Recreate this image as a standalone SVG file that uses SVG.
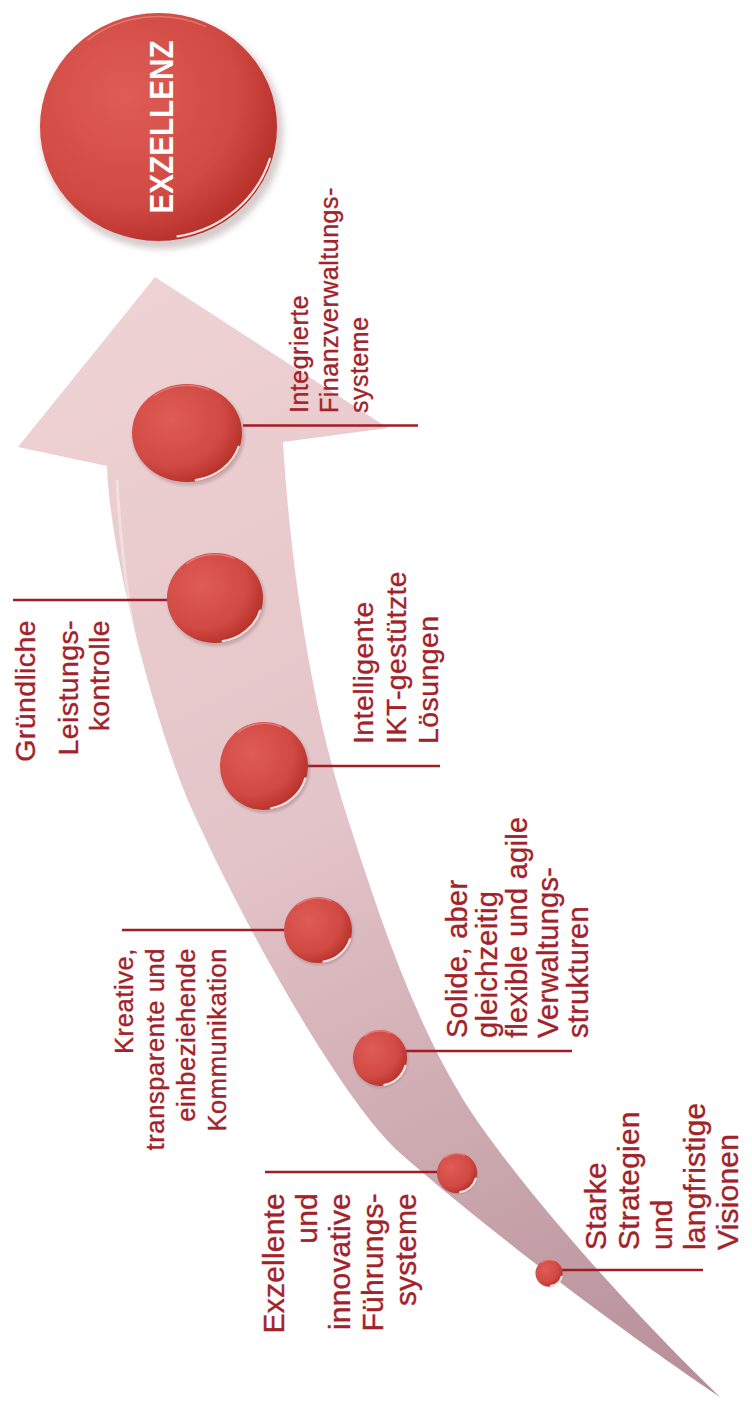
<svg xmlns="http://www.w3.org/2000/svg" width="752" height="1401" viewBox="0 0 752 1401">
<style>
.lbl{font-family:"Liberation Sans",Arial,Helvetica,sans-serif;fill:#a3222a;stroke:#a3222a;stroke-width:0.35px}
.f1{font-size:25px;letter-spacing:0.5px}
.f2{font-size:28.5px;letter-spacing:0.4px}
.f4{font-size:25.5px;letter-spacing:0.6px}
.f5{font-size:29px;letter-spacing:0.3px}
.f6{font-size:30px;letter-spacing:0.2px}
.s{text-anchor:start}
.e{text-anchor:end}
.lead{stroke:#a11d25;stroke-width:2.6;fill:none}
.title{font-family:"Liberation Sans",Arial,Helvetica,sans-serif;font-weight:bold;font-size:34px;fill:#ffffff;text-anchor:middle}
</style>
<defs>
<linearGradient id="arrowGrad" gradientUnits="userSpaceOnUse" x1="150" y1="280" x2="700" y2="1400">
<stop offset="0" stop-color="#efd2d4"/>
<stop offset="0.45" stop-color="#e3c4c8"/>
<stop offset="1" stop-color="#b68e97"/>
</linearGradient>
<radialGradient id="ballGrad" cx="0.36" cy="0.36" r="0.66">
<stop offset="0" stop-color="#de5d56"/>
<stop offset="0.72" stop-color="#d14943"/>
<stop offset="1" stop-color="#b9332d"/>
</radialGradient>
<filter id="soft" x="-20%" y="-20%" width="140%" height="140%"><feGaussianBlur stdDeviation="1.5"/></filter>
<g id="ball">
<circle cx="1.5" cy="2.5" r="51" fill="#8a6a70" opacity="0.35" filter="url(#soft)"/>
<circle r="50" fill="url(#ballGrad)"/>
<path d="M 47 14 A 49 49 0 0 1 8 48" fill="none" stroke="#ffffff" stroke-opacity="0.85" stroke-width="2.2" vector-effect="non-scaling-stroke" stroke-linecap="round"/>
<path d="M -30 -38 A 48 48 0 0 1 20 -44" fill="none" stroke="#f2a19b" stroke-opacity="0.5" stroke-width="1.5" vector-effect="non-scaling-stroke"/>
</g>
</defs>
<rect width="752" height="1401" fill="#ffffff"/>
<g id="arrow">
<path d="M 283 442 C 290 560 310 700 345 810 C 380 920 420 1040 480 1125 C 540 1210 640 1320 720 1397 C 620 1330 485 1228 400 1153 C 345 1104 248 935 190 805 C 160 737 110 560 107 466 L 18 447 L 155 277 L 388 428 Z" fill="url(#arrowGrad)"/>
<path d="M 117 480 C 121 560 134 650 152 720" fill="none" stroke="#ffffff" stroke-opacity="0.35" stroke-width="3"/>
</g>
<g id="connectors">
<path class="lead" d="M 243 425.5 H 418"/>
<path class="lead" d="M 13 600 H 170"/>
<path class="lead" d="M 305 766 H 440"/>
<path class="lead" d="M 122 930 H 287"/>
<path class="lead" d="M 405 1051 H 572"/>
<path class="lead" d="M 265 1172 H 440"/>
<path class="lead" d="M 560 1270 H 703"/>
</g>
<g id="node-exzellenz">
<use href="#ball" transform="translate(158.5 127) scale(2.37 2.28)"/>
<text class="title" transform="translate(173 127) rotate(-90)" textLength="173" lengthAdjust="spacingAndGlyphs">EXZELLENZ</text>
</g>
<g id="node-1">
<use href="#ball" transform="translate(187 433) scale(1.1 0.98)"/>
<text class="lbl f1 s" transform="translate(308 413) rotate(-90)">Integrierte</text>
<text class="lbl f1 s" transform="translate(338 413) rotate(-90)">Finanzverwaltungs-</text>
<text class="lbl f1 s" transform="translate(368 413) rotate(-90)">systeme</text>
</g>
<g id="node-2">
<use href="#ball" transform="translate(215 598) scale(0.96 0.9)"/>
<text class="lbl f2 e" transform="translate(35 620) rotate(-90)">Gründliche</text>
<text class="lbl f2 e" transform="translate(78 620) rotate(-90)">Leistungs-</text>
<text class="lbl f2 e" transform="translate(109 620) rotate(-90)">kontrolle</text>
</g>
<g id="node-3">
<use href="#ball" transform="translate(264 766) scale(0.88 0.88)"/>
<text class="lbl f2 s" transform="translate(373 744) rotate(-90)">Intelligente</text>
<text class="lbl f2 s" transform="translate(406 744) rotate(-90)">IKT-gestützte</text>
<text class="lbl f2 s" transform="translate(438 744) rotate(-90)">Lösungen</text>
</g>
<g id="node-4">
<use href="#ball" transform="translate(318 930) scale(0.68 0.66)"/>
<text class="lbl f4 e" transform="translate(133 948) rotate(-90)">Kreative,</text>
<text class="lbl f4 e" transform="translate(164 948) rotate(-90)">transparente und</text>
<text class="lbl f4 e" transform="translate(195 948) rotate(-90)">einbeziehende</text>
<text class="lbl f4 e" transform="translate(226 948) rotate(-90)">Kommunikation</text>
</g>
<g id="node-5">
<use href="#ball" transform="translate(380 1058) scale(0.54 0.56)"/>
<text class="lbl f5 s" transform="translate(467 1038) rotate(-90)">Solide, aber</text>
<text class="lbl f5 s" transform="translate(497 1038) rotate(-90)">gleichzeitig</text>
<text class="lbl f5 s" transform="translate(527 1038) rotate(-90)">flexible und agile</text>
<text class="lbl f5 s" transform="translate(558 1038) rotate(-90)">Verwaltungs-</text>
<text class="lbl f5 s" transform="translate(588 1038) rotate(-90)">strukturen</text>
</g>
<g id="node-6">
<use href="#ball" transform="translate(457 1173) scale(0.4 0.4)"/>
<text class="lbl f6 e" transform="translate(284 1193) rotate(-90)">Exzellente</text>
<text class="lbl f6 e" transform="translate(317 1193) rotate(-90)">und</text>
<text class="lbl f6 e" transform="translate(350 1193) rotate(-90)">innovative</text>
<text class="lbl f6 e" transform="translate(383 1193) rotate(-90)">Führungs-</text>
<text class="lbl f6 e" transform="translate(416 1193) rotate(-90)">systeme</text>
</g>
<g id="node-7">
<use href="#ball" transform="translate(549 1273) scale(0.27 0.27)"/>
<text class="lbl f6 s" transform="translate(606 1250) rotate(-90)">Starke</text>
<text class="lbl f6 s" transform="translate(639 1250) rotate(-90)">Strategien</text>
<text class="lbl f6 s" transform="translate(672 1250) rotate(-90)">und</text>
<text class="lbl f6 s" transform="translate(705 1250) rotate(-90)">langfristige</text>
<text class="lbl f6 s" transform="translate(738 1250) rotate(-90)">Visionen</text>
</g>
</svg>
